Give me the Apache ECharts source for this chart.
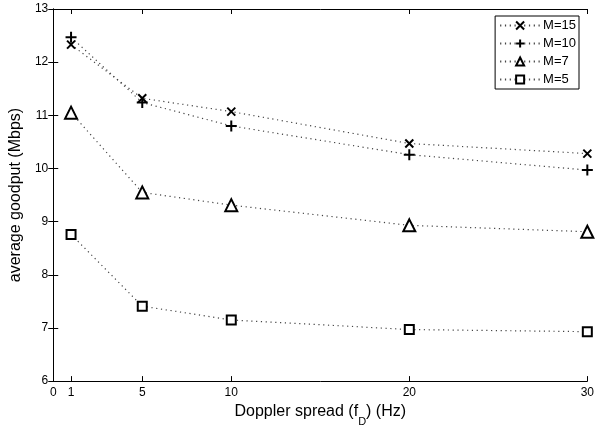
<!DOCTYPE html>
<html>
<head>
<meta charset="utf-8">
<script src="https://cdn.jsdelivr.net/npm/echarts@6/dist/echarts.min.js"></script>
<style>
  html, body { margin: 0; padding: 0; background: #fff; }
  #chart { width: 597px; height: 432px; }
</style>
</head>
<body>
<div id="chart"></div>
<script>
// Doppler spread fD (Hz) vs average goodput (Mbps)
var fd = [1, 5, 10, 20, 30];
var m15 = [12.33, 11.32, 11.07, 10.47, 10.28];
var m10 = [12.47, 11.24, 10.80, 10.26, 9.97];
var m7 = [11.05, 9.55, 9.31, 8.93, 8.81];
var m5 = [8.76, 7.41, 7.15, 6.97, 6.93];
var xTicks = [0, 1, 5, 10, 20, 30];
var names = ['M=15', 'M=10', 'M=7', 'M=5'];

var font = "'Liberation Sans', Arial, Helvetica, sans-serif";

function pairs(ys) {
  return fd.map(function (x, i) { return [x, ys[i]]; });
}

function mkSeries(name, ys, symbol, size, fill) {
  return {
    name: name,
    type: 'line',
    data: pairs(ys),
    symbol: symbol,
    symbolSize: size,
    showAllSymbol: true,
    clip: false,
    lineStyle: { color: '#444', width: 1.2, type: [1.2, 3.6] },
    itemStyle: { color: fill, borderColor: '#000', borderWidth: 2 },
    emphasis: { disabled: true },
    z: 3
  };
}

var chart = echarts.init(document.getElementById('chart'), null, { renderer: 'canvas' });

var option = {
  animation: false,
  backgroundColor: '#fff',
  textStyle: { fontFamily: font },
  grid: { left: 49, right: 7, top: 9, bottom: 47 },
  legend: {
    data: names,
    orient: 'vertical',
    right: 18,
    top: 16,
    itemWidth: 40,
    itemHeight: 10,
    itemGap: 5,
    padding: [3, 3, 3, 4],
    backgroundColor: '#fff',
    borderColor: '#000',
    borderWidth: 1,
    borderRadius: 0,
    textStyle: { fontFamily: font, fontSize: 13, color: '#000', padding: [0, 0, 0, -2] },
    z: 10
  },
  xAxis: [{
    type: 'value',
    min: 0,
    max: 30,
    name: '{a|Doppler spread (f}{s|D}{a|) (Hz)}',
    nameLocation: 'middle',
    nameGap: 20,
    nameTextStyle: {
      rich: {
        a: { fontFamily: font, fontSize: 16, color: '#000', lineHeight: 18, verticalAlign: 'top' },
        s: { fontFamily: font, fontSize: 11, color: '#000', lineHeight: 13, verticalAlign: 'top', padding: [12, 0, 0, 0] }
      }
    },
    axisLine: { lineStyle: { color: '#000', width: 1 } },
    axisTick: { inside: true, length: 5, customValues: xTicks, lineStyle: { color: '#000' } },
    axisLabel: { customValues: xTicks, color: '#000', fontSize: 12, fontFamily: font, margin: 6 },
    splitLine: { show: false }
  }, {
    type: 'value',
    position: 'top',
    min: 0,
    max: 30,
    axisLine: { lineStyle: { color: '#000', width: 1 } },
    axisTick: { inside: true, length: 5, customValues: xTicks, lineStyle: { color: '#000' } },
    axisLabel: { show: false },
    splitLine: { show: false }
  }],
  yAxis: [{
    type: 'value',
    min: 6,
    max: 13,
    interval: 1,
    name: 'average goodput (Mbps)',
    nameLocation: 'middle',
    nameGap: 23,
    nameTextStyle: { fontFamily: font, fontSize: 16, color: '#000' },
    axisLine: { show: true, lineStyle: { color: '#000', width: 1 } },
    axisTick: { show: true, inside: true, length: 5, lineStyle: { color: '#000' } },
    axisLabel: { color: '#000', fontSize: 12, fontFamily: font, margin: 5 },
    splitLine: { show: false }
  }, {
    type: 'value',
    position: 'right',
    min: 6,
    max: 13,
    interval: 1,
    axisLine: { show: true, lineStyle: { color: '#000', width: 1 } },
    axisTick: { show: true, inside: true, length: 5, lineStyle: { color: '#000' } },
    axisLabel: { show: false },
    splitLine: { show: false }
  }],
  series: [
    mkSeries('M=15', m15, 'path://M0,0L10,10M10,0L0,10', 8, 'none'),
    mkSeries('M=10', m10, 'path://M5,0L5,10M0,5L10,5', 11, 'none'),
    mkSeries('M=7', m7, 'triangle', 12, '#fff'),
    mkSeries('M=5', m5, 'rect', 9, '#fff')
  ]
};

chart.setOption(option);
</script>
</body>
</html>
